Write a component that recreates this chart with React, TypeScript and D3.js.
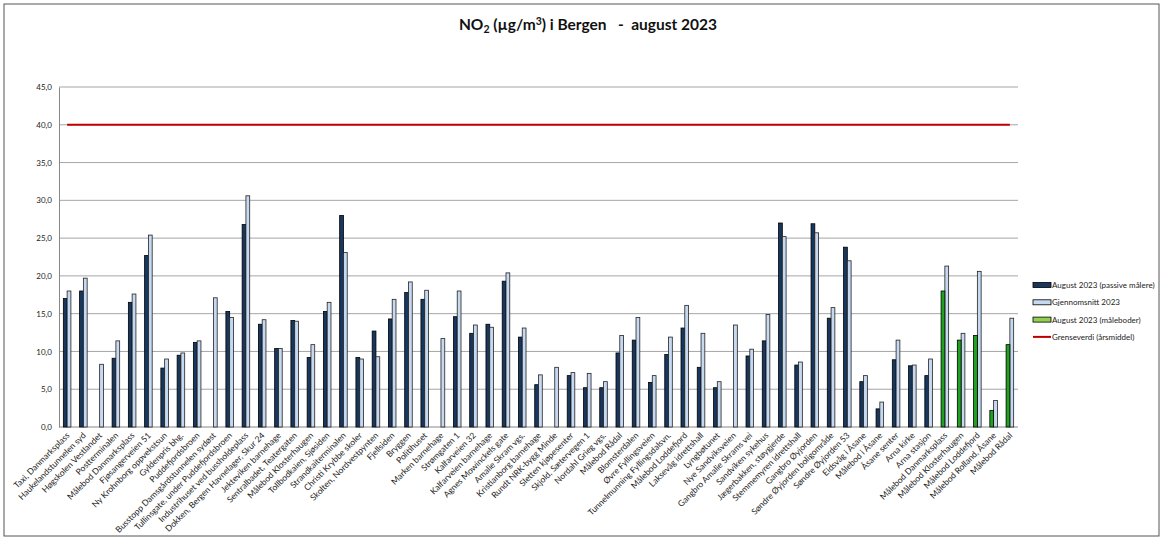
import React, { useRef, useEffect } from "react";
import * as d3 from "d3";

// NO2 per measuring point, August 2023 vs. 2023 average
const categories = [
  "Taxi, Danmarksplass",
  "Haukelandstunnelen syd",
  "Høgskolen Vestlandet",
  "Postterminalen",
  "Målebod Danmarksplass",
  "Fjøsangerveien 51",
  "Ny Krohnborg oppvekstsun",
  "Gyldenpris bhg.",
  "Puddefjordsbroen",
  "Busstopp Damsgårdstunnelen sydøst",
  "Tullinsgate, under Puddefjordsbroen",
  "Industrihuset ved bussholdeplass",
  "Dokken, Bergen Havnelager, Skur 24",
  "Jekteviken barnehage",
  "Sentralbadet, Teatergaten",
  "Målebod Klosterhaugen",
  "Tollbodkaien, Sjøsiden",
  "Strandkaiterminalen",
  "Christi Krybbe skoler",
  "Skolten, Nordvestpynten",
  "Fjellsiden",
  "Bryggen",
  "Politihuset",
  "Marken barnehage",
  "Strømgaten 1",
  "Kalfarveien 32",
  "Kalfarveien barnehage",
  "Agnes Mowinckels gate",
  "Amalie Skram vgs.",
  "Kristianborg barnehage",
  "Rundt NRK-bygg Minde",
  "Sletten kjøpesenter",
  "Skjold, Sætervegen 1",
  "Nordahl Grieg vgs.",
  "Målebod Rådal",
  "Blomsterdalen",
  "Øvre Fyllingsveien",
  "Tunnelmunning Fyllingsdalsvn.",
  "Målebod Loddefjord",
  "Laksevåg idrettshall",
  "Lyngbøtunet",
  "Nye Sandviksveien",
  "Gangbro Amalie Skrams vei",
  "Sandviken sykehus",
  "Jægerbakken, støygjerde",
  "Stemmemyren idrettshall",
  "Gangbro Øyjorden",
  "Søndre Øyjorden boligområde",
  "Søndre  Øyjorden 53",
  "Eidsvåg i Åsane",
  "Målebod i Åsane",
  "Åsane senter",
  "Arna kirke",
  "Arna stasjon",
  "Målebod Danmarksplass",
  "Målebod Klosterhaugen",
  "Målebod Loddefjord",
  "Målebod Rolland, Åsane",
  "Målebod Rådal",
];

const passive: (number | null)[] = [
  17.0, 18.0, null, 9.1, 16.5, 22.7, 7.8, 9.5, 11.2, null,
  15.3, 26.8, 13.6, 10.4, 14.1, 9.2, 15.3, 28.0, 9.2, 12.7,
  14.3, 17.8, 16.9, null, 14.6, 12.4, 13.6, 19.3, 11.9, 5.6,
  null, 6.8, 5.2, 5.2, 9.8, 11.5, 5.9, 9.6, 13.1, 7.9,
  5.2, null, 9.4, 11.4, 27.0, 8.2, 26.9, 14.4, 23.8, 6.0,
  2.4, 8.9, 8.1, 6.8, null, null, null, null, null,
];

const average: number[] = [
  18.0, 19.7, 8.3, 11.4, 17.6, 25.4, 9.0, 9.8, 11.4, 17.1,
  14.5, 30.6, 14.2, 10.4, 14.0, 10.9, 16.5, 23.1, 9.0, 9.3,
  16.9, 19.2, 18.1, 11.7, 18.0, 13.5, 13.2, 20.4, 13.1, 6.9,
  7.9, 7.2, 7.1, 6.0, 12.1, 14.5, 6.8, 11.9, 16.1, 12.4,
  6.0, 13.5, 10.3, 14.9, 25.2, 8.6, 25.7, 15.8, 22.0, 6.8,
  3.3, 11.5, 8.2, 9.0, 21.3, 12.4, 20.6, 3.5, 14.4,
];

const stations: (number | null)[] = [
  ...new Array(54).fill(null),
  18.0, 11.5, 12.1, 2.2, 10.9,
];

const limitValue = 40;
const yTicks = [0, 5, 10, 15, 20, 25, 30, 35, 40, 45];

const legendItems = [
  { label: "August 2023 (passive målere)", type: "rect", fill: "#17375E" },
  { label: "Gjennomsnitt 2023", type: "rect", fill: "#C6D9F1" },
  { label: "August 2023 (måleboder)", type: "rect", fill: "#92D050" },
  { label: "Grenseverdi (årsmiddel)", type: "line", fill: "#C00000" },
];

const FONT = "Lato, 'Open Sans', sans-serif";

export default function App() {
  const svgRef = useRef<SVGSVGElement>(null);

  useEffect(() => {
    const svg = d3.select(svgRef.current);
    svg.selectAll("*").remove();

    const width = 1163;
    const height = 540;
    const plot = { left: 59, right: 1018, top: 87, bottom: 427 };

    svg.attr("width", width).attr("height", height).attr("viewBox", `0 0 ${width} ${height}`);

    svg.append("rect")
      .attr("x", 0).attr("y", 0).attr("width", width).attr("height", height)
      .attr("fill", "#fff");

    svg.append("rect")
      .attr("x", 4).attr("y", 4).attr("width", width - 8).attr("height", height - 8)
      .attr("fill", "none").attr("stroke", "#555").attr("stroke-width", 1);

    const x = d3.scaleBand<string>()
      .domain(categories.map((_, i) => String(i)))
      .range([plot.left, plot.right]);

    const sub = d3.scaleBand<string>()
      .domain(["main", "avg"])
      .range([0, x.bandwidth()])
      .paddingOuter(1.15);

    const y = d3.scaleLinear().domain([0, 45]).range([plot.bottom, plot.top]);

    // gridlines
    svg.append("g")
      .selectAll("line")
      .data(yTicks)
      .join("line")
      .attr("x1", plot.left)
      .attr("x2", plot.right)
      .attr("y1", (d) => y(d))
      .attr("y2", (d) => y(d))
      .attr("stroke", (d) => (d === 0 ? "#888" : "#a6a6a6"))
      .attr("stroke-width", 1);

    // y axis
    const yAxis = svg.append("g")
      .attr("transform", `translate(${plot.left},0)`)
      .call(
        d3.axisLeft(y)
          .tickValues(yTicks)
          .tickSize(0)
          .tickPadding(7)
          .tickFormat((d) => d3.format(".1f")(d as number).replace(".", ","))
      );
    yAxis.select(".domain").attr("stroke", "#888");
    yAxis.selectAll("text")
      .attr("font-family", FONT)
      .attr("font-size", 8)
      .attr("fill", "#222");

    // bars
    const bars = svg.append("g");
    const drawSeries = (vals: (number | null)[], key: string, fill: string, stroke: string) => {
      bars.append("g")
        .selectAll("rect")
        .data(vals.map((v, i) => ({ v, i })).filter((d) => d.v != null))
        .join("rect")
        .attr("x", (d) => (x(String(d.i)) as number) + (sub(key) as number))
        .attr("y", (d) => y(d.v as number))
        .attr("width", sub.bandwidth())
        .attr("height", (d) => y(0) - y(d.v as number))
        .attr("fill", fill)
        .attr("stroke", stroke)
        .attr("stroke-width", 0.8);
    };
    drawSeries(passive, "main", "#17375E", "#000");
    drawSeries(average, "avg", "#C6D9F1", "#222");
    drawSeries(stations, "main", "#1FA21F", "#000");

    // limit line
    const line = d3.line<string>()
      .x((d) => (x(d) as number) + x.bandwidth() / 2)
      .y(() => y(limitValue));
    svg.append("path")
      .datum(categories.map((_, i) => String(i)))
      .attr("d", line)
      .attr("fill", "none")
      .attr("stroke", "#C00000")
      .attr("stroke-width", 2);

    // x labels
    svg.append("g")
      .selectAll("text")
      .data(categories)
      .join("text")
      .attr("transform", (_, i) => {
        const cx = (x(String(i)) as number) + x.bandwidth() / 2 + 3;
        return `translate(${cx},${plot.bottom + 9}) rotate(-45)`;
      })
      .attr("text-anchor", "end")
      .attr("font-family", FONT)
      .attr("font-size", 8.5)
      .attr("fill", "#222")
      .text((d) => d);

    // title
    const title = svg.append("text")
      .attr("x", 588)
      .attr("y", 30)
      .attr("text-anchor", "middle")
      .attr("font-family", FONT)
      .attr("font-size", 15.5)
      .attr("font-weight", "bold")
      .attr("fill", "#111");
    title.append("tspan").text("NO");
    title.append("tspan").attr("font-size", 10.5).attr("dy", 3).text("2");
    title.append("tspan").attr("dy", -3).text(" (µg/m");
    title.append("tspan").attr("font-size", 10.5).attr("dy", -5).text("3");
    title.append("tspan").attr("dy", 5).text(")\u00a0i Bergen \u00a0\u00a0- \u00a0august 2023");

    // legend
    const legend = svg.append("g").attr("transform", "translate(1033,285)");
    const rows = legend.selectAll("g")
      .data(legendItems)
      .join("g")
      .attr("transform", (_, i) => `translate(0,${i * 17.3})`);
    rows.filter((d) => d.type === "rect")
      .append("rect")
      .attr("x", 0).attr("y", -2.5).attr("width", 18).attr("height", 5)
      .attr("fill", (d) => d.fill)
      .attr("stroke", "#000")
      .attr("stroke-width", 0.8);
    rows.filter((d) => d.type === "line")
      .append("line")
      .attr("x1", 0).attr("x2", 18).attr("y1", 0).attr("y2", 0)
      .attr("stroke", (d) => d.fill)
      .attr("stroke-width", 2);
    rows.append("text")
      .attr("x", 19)
      .attr("y", 3)
      .attr("font-family", FONT)
      .attr("font-size", 8)
      .attr("fill", "#222")
      .text((d) => d.label);
  }, []);

  return (
    <div style={{ position: "absolute", left: 0, top: 0 }}>
      <svg ref={svgRef} style={{ display: "block" }} />
    </div>
  );
}
